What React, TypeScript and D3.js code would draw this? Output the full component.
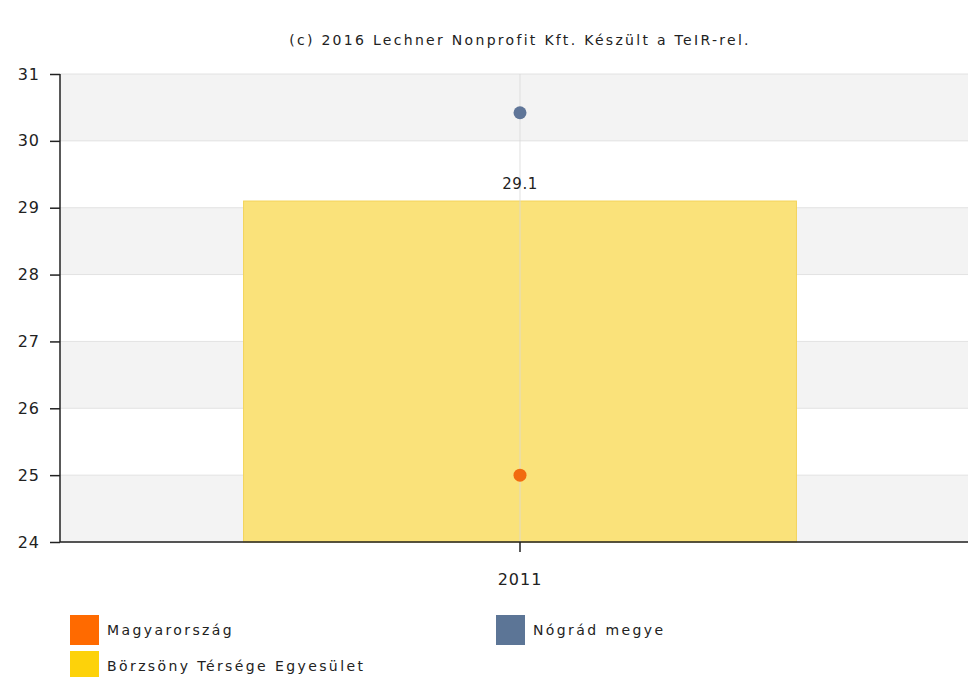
import * as d3 from "d3";
import React, { useEffect, useRef } from "react";

const categories = ["2011"];
const barSeries = { name: "Börzsöny Térsége Egyesület", values: [29.1] };
const pointSeries = [
  { name: "Magyarország", values: [25.0], color: "#f26b0f" },
  { name: "Nógrád megye", values: [30.42], color: "#5f7598" },
];
const yTicks = [24, 25, 26, 27, 28, 29, 30, 31];
const legendItems = [
  { name: "Magyarország", color: "#ff6a00" },
  { name: "Nógrád megye", color: "#5c7596" },
  { name: "Börzsöny Térsége Egyesület", color: "#fdd20a" },
];
const credit = "(c) 2016 Lechner Nonprofit Kft. Készült a TeIR-rel.";

export default function App() {
  const svgRef = useRef<SVGSVGElement>(null);

  useEffect(() => {
    const width = 968, height = 677;
    const svg = d3.select(svgRef.current).attr("width", width).attr("height", height);
    svg.selectAll("*").remove();

    const left = 60, right = 980, top = 74, bottom = 542;
    const font = "DejaVu Sans, Verdana, sans-serif";

    const x = d3.scaleBand().domain(categories).range([left, right]).paddingInner(0).paddingOuter(0.332);
    const y = d3.scaleLinear().domain([24, 31]).range([bottom, top]);

    // alternating bands
    svg.append("g")
      .selectAll("rect")
      .data(yTicks.slice(0, -1))
      .enter().append("rect")
      .attr("x", left)
      .attr("width", right - left)
      .attr("y", d => y(d + 1))
      .attr("height", d => y(d) - y(d + 1))
      .attr("fill", d => (d % 2 === 0 ? "#f3f3f3" : "#ffffff"));

    // horizontal grid
    svg.append("g")
      .selectAll("line")
      .data(yTicks)
      .enter().append("line")
      .attr("x1", left).attr("x2", right)
      .attr("y1", d => y(d)).attr("y2", d => y(d))
      .attr("stroke", "#e2e2e2");

    // bar
    svg.append("g")
      .selectAll("rect")
      .data(barSeries.values)
      .enter().append("rect")
      .attr("x", (d, i) => x(categories[i])!)
      .attr("width", x.bandwidth())
      .attr("y", d => y(d))
      .attr("height", d => bottom - y(d))
      .attr("fill", "#fae27a")
      .attr("stroke", "#f3d45a")
      .attr("stroke-width", 1);

    // vertical grid
    svg.append("g")
      .selectAll("line")
      .data(categories)
      .enter().append("line")
      .attr("x1", d => x(d)! + x.bandwidth() / 2)
      .attr("x2", d => x(d)! + x.bandwidth() / 2)
      .attr("y1", top).attr("y2", bottom)
      .attr("stroke", "#d8d8d8")
      .attr("stroke-opacity", 0.8);

    // bar label
    svg.append("g")
      .selectAll("text")
      .data(barSeries.values)
      .enter().append("text")
      .attr("x", (d, i) => x(categories[i])! + x.bandwidth() / 2)
      .attr("y", d => y(d) - 12)
      .attr("text-anchor", "middle")
      .attr("font-family", font)
      .attr("font-size", 15)
      .attr("letter-spacing", 0.5)
      .attr("fill", "#222")
      .text(d => d.toFixed(1));

    // points
    pointSeries.forEach(s => {
      svg.append("g")
        .selectAll("circle")
        .data(s.values)
        .enter().append("circle")
        .attr("cx", (d, i) => x(categories[i])! + x.bandwidth() / 2)
        .attr("cy", d => y(d))
        .attr("r", 6.5)
        .attr("fill", s.color);
    });

    // y axis
    svg.append("g")
      .attr("transform", `translate(${left},0)`)
      .call(d3.axisLeft(y).tickValues(yTicks).tickSize(10).tickPadding(10).tickFormat(d3.format("d")))
      .call(g => g.select(".domain").attr("stroke", "#222").attr("stroke-width", 1.5).attr("d", `M0,${top}V${bottom}`))
      .call(g => g.selectAll(".tick line").attr("stroke", "#222").attr("stroke-width", 1.5))
      .call(g => g.selectAll(".tick text")
        .attr("font-family", font).attr("font-size", 16).attr("fill", "#222").attr("letter-spacing", 1));

    // x axis
    svg.append("g")
      .attr("transform", `translate(0,${bottom})`)
      .call(d3.axisBottom(x).tickSize(10).tickPadding(22))
      .call(g => g.select(".domain").attr("stroke", "#222").attr("stroke-width", 1.5).attr("d", `M${left},0H${width}`))
      .call(g => g.selectAll(".tick line").attr("stroke", "#222").attr("stroke-width", 1.5))
      .call(g => g.selectAll(".tick text")
        .attr("font-family", font).attr("font-size", 16).attr("fill", "#222").attr("letter-spacing", 1));

    // credit
    svg.append("text")
      .attr("x", 520).attr("y", 45)
      .attr("text-anchor", "middle")
      .attr("font-family", font)
      .attr("font-size", 14)
      .attr("letter-spacing", 2.3)
      .attr("fill", "#222")
      .text(credit);

    // legend
    const legendPos = [
      { x: 70, y: 615 },
      { x: 496, y: 615 },
      { x: 70, y: 651 },
    ];
    const lg = svg.append("g")
      .selectAll("g")
      .data(legendItems)
      .enter().append("g")
      .attr("transform", (d, i) => `translate(${legendPos[i].x},${legendPos[i].y})`);
    lg.append("rect").attr("width", 29).attr("height", 30).attr("fill", d => d.color);
    lg.append("text")
      .attr("x", 37).attr("y", 20)
      .attr("font-family", font)
      .attr("font-size", 14)
      .attr("letter-spacing", 2.4)
      .attr("fill", "#222")
      .text(d => d.name);
  }, []);

  return <svg ref={svgRef} style={{ position: "absolute", left: 0, top: 0 }} />;
}
